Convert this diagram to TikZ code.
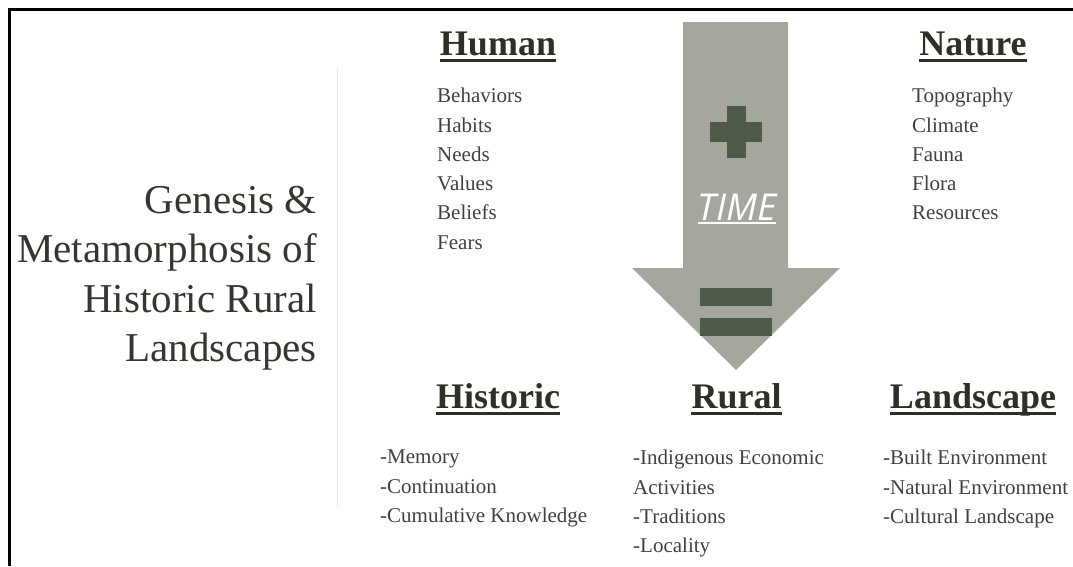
\documentclass[tikz,border=0pt]{standalone}
\usepackage{fontspec}
\setmainfont{Liberation Serif}
\newfontfamily\timefont{Open Sans}
\usepackage{xcolor}
\usepackage{tikz}
\definecolor{arrowgray}{HTML}{A5A79E}
\definecolor{signgreen}{HTML}{505A48}
\definecolor{headc}{HTML}{2C3026}
\definecolor{listc}{HTML}{404040}
\definecolor{titlec}{HTML}{34372F}

\begin{document}
\begin{tikzpicture}[x=1pt,y=-1pt,
    head/.style={font=\fontsize{36}{40}\selectfont\bfseries, text=headc, inner sep=0pt, anchor=base},
    items/.style={font=\fontsize{21}{29.3}\selectfont, text=listc, inner sep=0pt, align=left, anchor=north west},
    ul/.style={headc, line width=3pt}]
    \useasboundingbox (0,0) rectangle (1073,566);
    \draw[line width=3pt] (1073,9) -- (9.5,9) -- (9.5,566);
    \draw[gray!20] (337,68) -- (337,507);
    \node[font=\fontsize{41}{49.5}\selectfont, text=titlec, align=right, anchor=north east, inner sep=0pt] (title) at (317,186) {Genesis \&\\Metamorphosis of\\Historic Rural\\Landscapes};

    \fill[arrowgray] (683,22) -- (788,22) -- (788,268) -- (840,268) -- (736,370) -- (632,268) -- (683,268) -- cycle;
    \fill[signgreen] (727,106) rectangle (746,158);
    \fill[signgreen] (710,122) rectangle (762,142);
    \node[font=\timefont\itshape\fontsize{37}{40}\selectfont, text=white, inner sep=0pt, anchor=base] (time) at (737,220) {TIME};
    \draw[white, line width=2.5pt] ([yshift=-3pt]time.base west) -- ([yshift=-3pt]time.base east);
    \fill[signgreen] (700,288) rectangle (772,306);
    \fill[signgreen] (700,318) rectangle (772,336);

    \node[head] (human) at (498,55) {Human};
    \draw[ul] ([yshift=-5pt]human.base west) -- ([yshift=-5pt]human.base east);
    \node[items] (humanlist) at (437,88) {Behaviors\\Habits\\Needs\\Values\\Beliefs\\Fears};

    \node[head] (nature) at (973,55) {Nature};
    \draw[ul] ([yshift=-5pt]nature.base west) -- ([yshift=-5pt]nature.base east);
    \node[items] (naturelist) at (912,88) {Topography\\Climate\\Fauna\\Flora\\Resources};

    \node[head] (historic) at (498,408) {Historic};
    \draw[ul] ([yshift=-5pt]historic.base west) -- ([yshift=-5pt]historic.base east);
    \node[items] (historiclist) at (380,450) {-Memory\\-Continuation\\-Cumulative Knowledge};

    \node[head] (rural) at (736.5,408) {Rural};
    \draw[ul] ([yshift=-5pt]rural.base west) -- ([yshift=-5pt]rural.base east);
    \node[items] (rurallist) at (633,450) {-Indigenous Economic\\Activities\\-Traditions\\-Locality};

    \node[head] (landscape) at (973,408) {Landscape};
    \draw[ul] ([yshift=-5pt]landscape.base west) -- ([yshift=-5pt]landscape.base east);
    \node[items] (landscapelist) at (883,450) {-Built Environment\\-Natural Environment\\-Cultural Landscape};
\end{tikzpicture}
\end{document}
